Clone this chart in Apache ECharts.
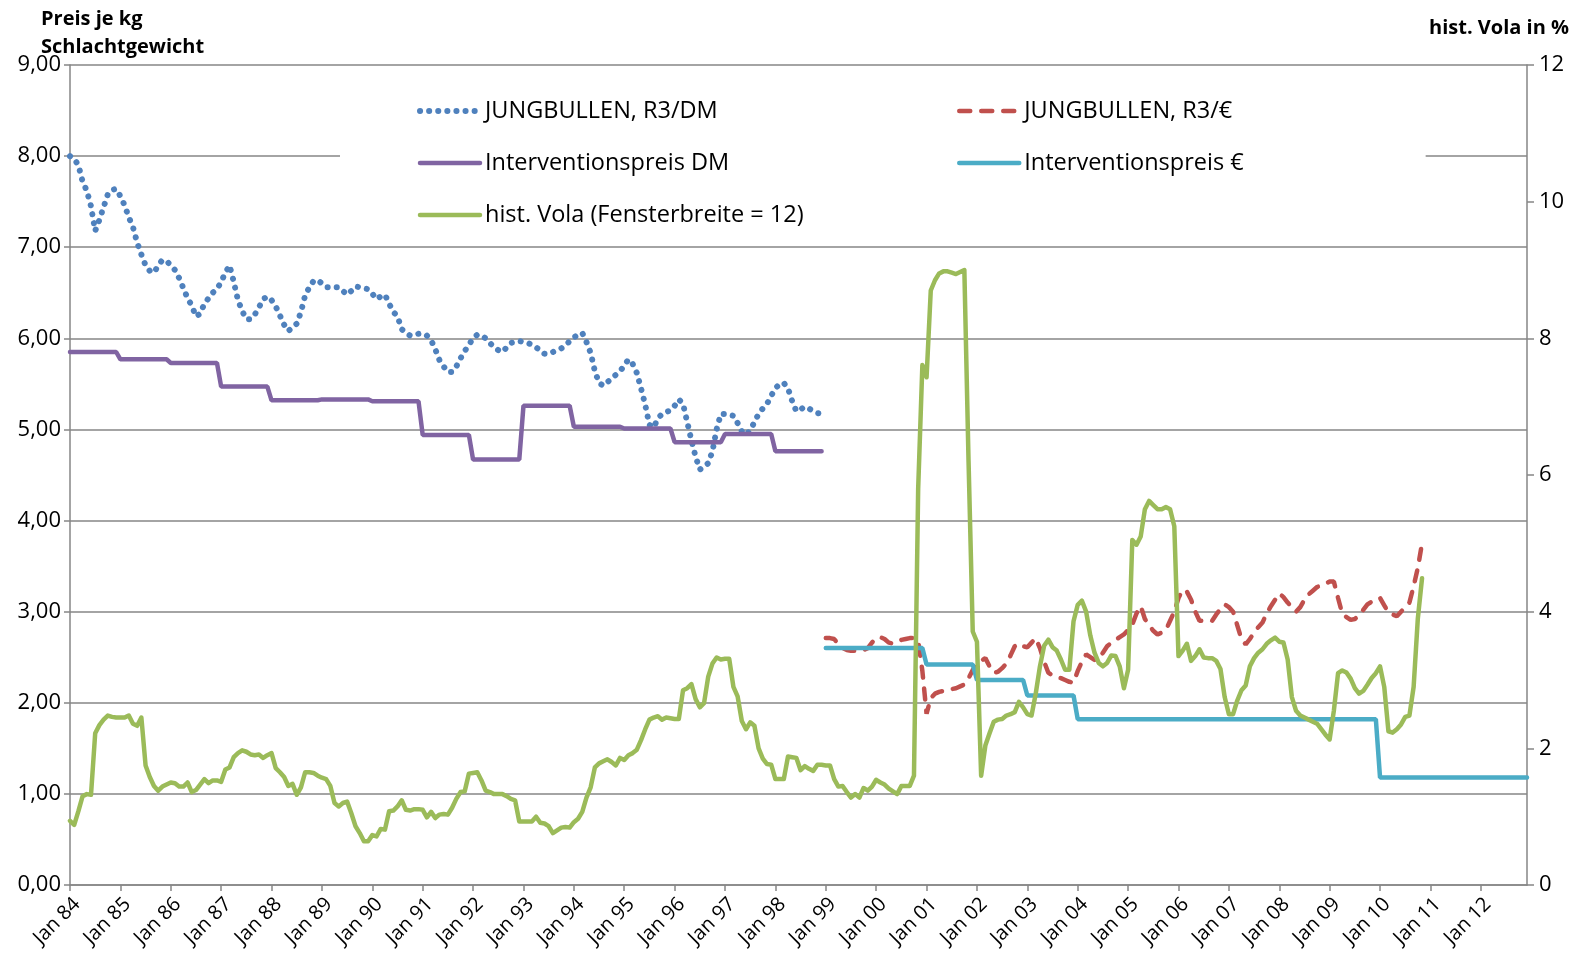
<!DOCTYPE html>
<html>
<head>
<meta charset="utf-8">
<title>Jungbullen R3</title>
<script src="https://cdn.jsdelivr.net/npm/echarts@6/dist/echarts.min.js"></script>
<style>
	html,body{margin:0;padding:0;background:#fff;}
	#chart{width:1577px;height:963px;}
</style>
</head>
<body>
<div id="chart"></div>
<script>
	// Monatsachse Jan 84 .. Dez 12
	var years = ['84','85','86','87','88','89','90','91','92','93','94','95','96','97','98','99',
	             '00','01','02','03','04','05','06','07','08','09','10','11','12'];
	var monthNames = ['Jan','Feb','Mrz','Apr','Mai','Jun','Jul','Aug','Sep','Okt','Nov','Dez'];

	// JUNGBULLEN, R3/DM  (Jan 84 - Dez 98, monatlich)
	var priceDM = [
		8.00,7.97,7.90,7.72,7.62,7.45,7.18,7.30,7.44,7.58,7.63,7.64,
		7.56,7.46,7.33,7.22,7.05,6.92,6.80,6.74,6.72,6.80,6.86,6.85,
		6.80,6.75,6.66,6.55,6.44,6.36,6.24,6.27,6.38,6.44,6.50,6.54,
		6.62,6.72,6.80,6.62,6.42,6.30,6.21,6.21,6.26,6.34,6.43,6.46,
		6.42,6.35,6.25,6.15,6.08,6.12,6.16,6.29,6.47,6.56,6.63,6.64,
		6.60,6.56,6.56,6.56,6.56,6.52,6.48,6.52,6.57,6.56,6.55,6.54,
		6.49,6.43,6.46,6.48,6.38,6.29,6.24,6.10,6.06,6.03,6.04,6.05,
		6.05,6.03,5.98,5.88,5.76,5.69,5.63,5.63,5.69,5.78,5.86,5.93,
		6.00,6.04,6.03,6.00,5.95,5.90,5.87,5.85,5.90,5.95,5.96,5.97,
		5.96,5.95,5.93,5.90,5.87,5.83,5.83,5.85,5.87,5.89,5.92,5.97,
		6.01,6.04,6.06,5.96,5.84,5.64,5.51,5.48,5.52,5.56,5.60,5.64,
		5.70,5.77,5.72,5.62,5.45,5.27,5.05,5.02,5.12,5.17,5.19,5.21,
		5.26,5.33,5.28,5.08,4.88,4.70,4.56,4.59,4.63,4.76,5.00,5.17,
		5.17,5.16,5.15,5.07,4.98,4.94,4.99,5.08,5.17,5.23,5.28,5.37,
		5.45,5.50,5.51,5.45,5.31,5.20,5.22,5.25,5.23,5.20,5.18,5.17
	];

	// JUNGBULLEN, R3/€  (ab Jan 99, monatlich)
	var priceEUR = [
		2.71,2.71,2.70,2.64,2.60,2.58,2.57,2.57,2.58,2.58,2.60,2.66,
		2.71,2.72,2.70,2.66,2.65,2.67,2.69,2.70,2.71,2.71,2.68,2.35,
		1.88,2.05,2.10,2.12,2.13,2.14,2.15,2.16,2.18,2.20,2.27,2.36,
		2.42,2.46,2.49,2.40,2.33,2.34,2.38,2.43,2.52,2.62,2.65,2.62,
		2.61,2.66,2.71,2.60,2.45,2.33,2.30,2.28,2.27,2.25,2.23,2.22,
		2.35,2.45,2.53,2.50,2.47,2.48,2.55,2.62,2.66,2.69,2.72,
		2.75,2.80,2.86,2.98,3.06,2.92,2.85,2.79,2.75,2.77,2.80,2.90,
		3.00,3.15,3.24,3.22,3.13,3.00,2.90,2.90,2.90,2.90,2.97,3.03,
		3.08,3.05,3.00,2.85,2.70,2.64,2.70,2.77,2.83,2.88,2.98,3.06,
		3.13,3.20,3.16,3.10,3.05,3.00,3.05,3.13,3.19,3.23,3.27,3.29,
		3.31,3.33,3.33,3.15,2.98,2.94,2.91,2.92,2.96,3.02,3.08,
		3.11,3.14,3.15,3.07,2.99,2.97,2.95,3.00,3.05,3.10,3.28,3.48,
		3.75
	];

	// Interventionspreis, je Jahr
	var interventionDM  = [5.85,5.77,5.73,5.47,5.32,5.33,5.31,4.94,4.67,5.26,5.03,5.01,4.86,4.95,4.76]; // 84-98
	var interventionEUR = [2.60,2.60,2.42,2.25,2.08,1.82,1.82,1.82,1.82,1.82,1.82,1.18,1.18,1.18];      // 99-12

	// hist. Vola (Fensterbreite = 12) in %, ab Jan 84
	var vola = [
		0.94,0.88,1.08,1.30,1.33,1.32,2.22,2.34,2.42,2.48,2.46,2.45,
		2.45,2.45,2.48,2.36,2.33,2.45,1.75,1.58,1.45,1.38,1.44,1.47,
		1.50,1.49,1.44,1.44,1.50,1.36,1.39,1.47,1.55,1.49,1.53,1.53,
		1.51,1.69,1.72,1.87,1.93,1.97,1.95,1.91,1.90,1.91,1.86,1.90,
		1.93,1.71,1.65,1.58,1.45,1.48,1.32,1.43,1.65,1.65,1.64,1.60,
		1.57,1.55,1.45,1.20,1.15,1.20,1.22,1.05,0.86,0.76,0.64,0.64,
		0.73,0.71,0.82,0.81,1.08,1.09,1.15,1.24,1.10,1.09,1.11,
		1.11,1.10,0.99,1.07,0.98,1.03,1.04,1.03,1.13,1.26,1.36,1.37,
		1.63,1.64,1.65,1.53,1.38,1.36,1.33,1.33,1.33,1.30,1.26,1.24,
		0.93,0.93,0.93,0.93,1.00,0.91,0.90,0.86,0.76,0.80,0.84,0.85,
		0.84,0.92,0.97,1.07,1.28,1.43,1.72,1.78,1.81,1.84,1.80,1.75,
		1.86,1.83,1.90,1.93,1.98,2.12,2.28,2.42,2.45,2.47,2.42,2.45,
		2.44,2.43,2.43,2.85,2.88,2.94,2.72,2.60,2.66,3.05,3.24,3.33,
		3.30,3.31,3.31,2.90,2.76,2.40,2.28,2.38,2.33,2.00,1.85,1.77,
		1.76,1.55,1.55,1.55,1.88,1.87,1.86,1.68,1.74,1.70,1.67,1.76,
		1.76,1.75,1.75,1.55,1.44,1.45,1.36,1.28,1.33,1.28,1.42,1.38,
		1.44,1.54,1.50,1.47,1.41,1.37,1.33,1.45,1.45,1.45,1.60,5.80,
		7.61,7.43,8.70,8.85,8.95,8.98,8.98,8.96,8.94,8.97,9.00,6.20,
		3.71,3.56,1.60,2.04,2.22,2.39,2.42,2.43,2.48,2.50,2.53,2.68,
		2.60,2.50,2.48,2.80,3.20,3.50,3.59,3.48,3.43,3.30,3.15,3.15,
		3.86,4.10,4.16,4.00,3.65,3.40,3.25,3.20,3.25,3.36,3.35,3.20,
		2.88,3.15,5.05,4.98,5.10,5.50,5.62,5.56,5.50,5.50,5.53,
		5.50,5.25,3.35,3.43,3.53,3.28,3.35,3.45,3.33,3.32,3.32,3.28,
		3.16,2.75,2.50,2.50,2.70,2.85,2.92,3.20,3.32,3.40,3.45,3.53,
		3.58,3.62,3.56,3.55,3.30,2.75,2.55,2.48,2.45,2.42,2.39,2.36,
		2.28,2.20,2.13,2.55,3.10,3.14,3.11,3.02,2.88,2.80,2.84,2.93,
		3.03,3.10,3.20,2.90,2.25,2.23,2.28,2.35,2.46,2.48,2.90,3.90,
		4.49
	];

	var FONT = '"Open Sans", Lato, sans-serif';
	var GRID_COLOR = '#868686';

	var STYLE_DM   = { color: '#4F81BD', width: 6, type: [0.1, 9], cap: 'round' };
	var STYLE_EUR  = { color: '#C0504D', width: 4.5, type: [11, 11], cap: 'round' };
	var STYLE_IDM  = { color: '#8064A2', width: 4.5, cap: 'round' };
	var STYLE_IEUR = { color: '#4BACC6', width: 4.5, cap: 'round' };
	var STYLE_VOLA = { color: '#9BBB59', width: 4.5, cap: 'round', join: 'round' };

	var categories = [];
	years.forEach(function(y){
		monthNames.forEach(function(m){ categories.push(m + ' ' + y); });
	});

	// Jahreswerte auf Monate legen
	function monthly(yearVals){
		var out = [];
		yearVals.forEach(function(v){
			for(var i=0;i<12;i++) out.push(v);
		});
		return out;
	}
	function pad(n, arr){
		var out = [];
		for(var i=0;i<n;i++) out.push('-');
		return out.concat(arr);
	}
	function legendItem(name, ls){
		return { name: name, itemStyle: { opacity: 0 }, lineStyle: ls };
	}

	var legendText = { fontFamily: FONT, fontSize: 23.5, color: '#000', lineHeight: 22 };

	var chart = echarts.init(document.getElementById('chart'));
	chart.setOption({
		animation: false,
		backgroundColor: '#fff',
		textStyle: { fontFamily: FONT },
		title: [
			{ text: 'Preis je kg\nSchlachtgewicht', left: 36, top: 0,
			  textStyle: { fontFamily: FONT, fontSize: 20, fontWeight: 'bold', lineHeight: 28, color: '#000' } },
			{ text: 'hist. Vola in %', right: 3, top: 13,
			  textStyle: { fontFamily: FONT, fontSize: 20, fontWeight: 'bold', color: '#000' } },
		],
		grid: { left: 70, right: 50, top: 65, bottom: 78, containLabel: false },
		legend: [
			{
				data: [
					legendItem('JUNGBULLEN, R3/DM', STYLE_DM),
					legendItem('Interventionspreis DM', STYLE_IDM),
					legendItem('hist. Vola (Fensterbreite = 12)', STYLE_VOLA),
				],
				orient: 'vertical', left: 340, top: 87,
				padding: [12, 100, 13, 77],
				backgroundColor: '#fff',
				itemWidth: 60, itemHeight: 22, itemGap: 28,
				selectedMode: false,
				textStyle: legendText,
			},
			{
				data: [
					legendItem('JUNGBULLEN, R3/€', STYLE_EUR),
					legendItem('Interventionspreis €', STYLE_IEUR),
				],
				orient: 'vertical', left: 800, top: 87,
				padding: [12, 182, 12, 157],
				backgroundColor: '#fff',
				itemWidth: 60, itemHeight: 22, itemGap: 28,
				selectedMode: false,
				textStyle: legendText,
			},
		],
		xAxis: {
			type: 'category',
			data: categories,
			boundaryGap: false,
			axisLine: { lineStyle: { color: GRID_COLOR, width: 1.5 } },
			axisTick: { interval: 11, length: 6, lineStyle: { color: GRID_COLOR, width: 1.5 } },
			axisLabel: {
				interval: 11, rotate: 45, margin: 9, verticalAlign: 'top',
				fontFamily: FONT, fontSize: 20, color: '#000',
			},
			splitLine: { show: false },
		},
		yAxis: [
			{
				type: 'value', min: 0, max: 9, interval: 1, position: 'left',
				axisLine: { show: true, lineStyle: { color: GRID_COLOR, width: 1.5 } },
				axisTick: { show: true, length: 6, lineStyle: { color: GRID_COLOR, width: 1.5 } },
				axisLabel: {
					fontFamily: FONT, fontSize: 22, color: '#000', margin: 9,
					formatter: function(v){ return v.toFixed(2).replace('.', ','); },
				},
				splitLine: { show: true, lineStyle: { color: GRID_COLOR, width: 1.5 } },
			},
			{
				type: 'value', min: 0, max: 12, interval: 2, position: 'right',
				axisLine: { show: true, lineStyle: { color: GRID_COLOR, width: 1.5 } },
				axisTick: { show: true, length: 7, lineStyle: { color: GRID_COLOR, width: 1.5 } },
				axisLabel: { fontFamily: FONT, fontSize: 22, color: '#000', margin: 12 },
				splitLine: { show: false },
			},
		],
		series: [
			{
				name: 'JUNGBULLEN, R3/DM', type: 'line', yAxisIndex: 0,
				data: priceDM, symbol: 'none',
				lineStyle: STYLE_DM, itemStyle: { color: STYLE_DM.color },
			},
			{
				name: 'Interventionspreis DM', type: 'line', yAxisIndex: 0,
				data: monthly(interventionDM), symbol: 'none',
				lineStyle: STYLE_IDM, itemStyle: { color: STYLE_IDM.color },
			},
			{
				name: 'JUNGBULLEN, R3/€', type: 'line', yAxisIndex: 0,
				data: pad(180, priceEUR), symbol: 'none',
				lineStyle: STYLE_EUR, itemStyle: { color: STYLE_EUR.color },
			},
			{
				name: 'Interventionspreis €', type: 'line', yAxisIndex: 0,
				data: pad(180, monthly(interventionEUR)), symbol: 'none',
				lineStyle: STYLE_IEUR, itemStyle: { color: STYLE_IEUR.color },
			},
			{
				name: 'hist. Vola (Fensterbreite = 12)', type: 'line', yAxisIndex: 1,
				data: vola, symbol: 'none',
				lineStyle: STYLE_VOLA, itemStyle: { color: STYLE_VOLA.color },
			},
		],
	});
</script>
</body>
</html>
